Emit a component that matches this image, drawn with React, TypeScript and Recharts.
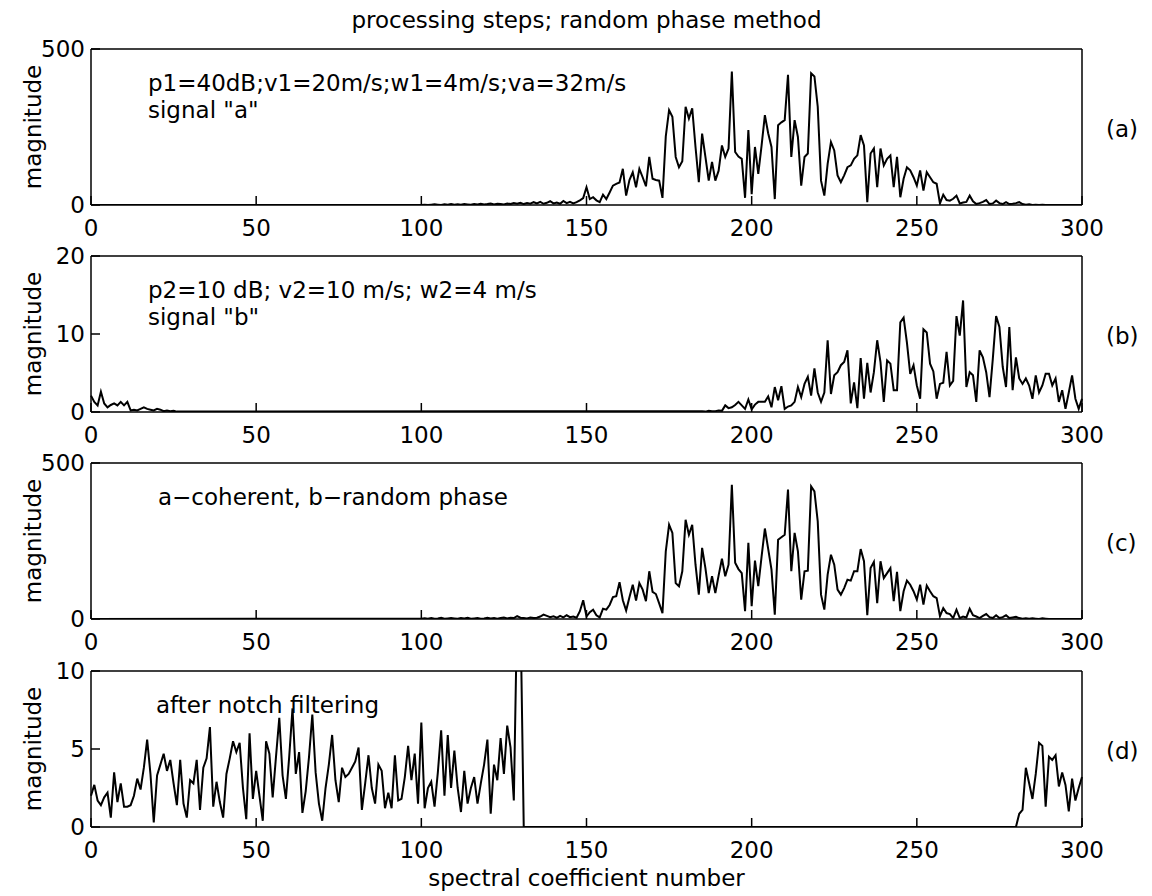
import React from "react";
import { LineChart, Line, XAxis, YAxis } from "recharts";

const FONT = "'DejaVu Sans', 'Liberation Sans', sans-serif";
const W = 1152;
const H = 896;
const PLOT_LEFT = 91;
const PLOT_RIGHT = 1082;
const PLOT_H = 156;
const PANEL_TOPS = [49, 256, 463, 671];

// x axis: spectral coefficient number
const coefTicks = [0, 50, 100, 150, 200, 250, 300];

// (a) signal "a", coefficients 100..290 (zero elsewhere)
const aStart = 100;
const magA = [
  0, 1, 0, 1, 2, 1, 0, 2, 1, 3,
  1, 2, 1, 3, 2, 1, 3, 2, 4, 2,
  3, 5, 2, 4, 3, 2, 5, 3, 6, 4,
  7, 3, 6, 4, 9, 5, 10, 4, 7, 12,
  5, 8, 4, 13, 6, 10, 5, 9, 15, 22,
  57, 19, 25, 15, 9, 33, 19, 40, 62, 68,
  72, 116, 30, 80, 105, 57, 116, 89, 60, 154,
  84, 80, 78, 23, 220, 304, 283, 154, 121, 140,
  315, 277, 310, 186, 73, 229, 154, 78, 138, 78,
  110, 191, 154, 181, 428, 170, 155, 148, 23, 240,
  35, 186, 100, 190, 288, 230, 186, 19, 256, 265,
  272, 417, 154, 272, 218, 62, 154, 165, 422, 412,
  315, 78, 30, 132, 202, 175, 95, 73, 95, 121,
  127, 148, 159, 224, 191, 9, 165, 181, 57, 181,
  127, 148, 159, 57, 154, 25, 84, 121, 111, 89,
  62, 111, 46, 105, 89, 73, 68, 5, 33, 16,
  14, 20, 30, 5, 8, 10, 30, 12, 3, 6,
  10, 16, 3, 5, 14, 6, 3, 9, 3, 4,
  6, 9, 3, 1, 2, 0, 1, 0, 1, 0, 0,
];

// (b) signal "b": low end 0..26 and high end 185..300
const bLow = [
  2.1, 1.3, 0.85, 2.6, 1.1, 0.6, 0.9, 1.1, 0.85, 1.3,
  0.85, 1.3, 0.2, 0.3, 0.2, 0.4, 0.6, 0.4, 0.3, 0.2,
  0.4, 0.3, 0.1, 0.2, 0.1, 0.15, 0.05,
];
const bHighStart = 185;
const bHigh = [
  0.1, 0.05, 0.15, 0.1, 0.1,
  0.2, 0.15, 0.85, 0.5, 0.6, 0.9, 1.3, 0.85, 0.4, 1.6,
  0.35, 0.95, 1.3, 1.3, 1.3, 2.0, 0.6, 3.2, 1.5, 3.3,
  0.4, 0.7, 0.85, 1.3, 3.2, 1.9, 3.6, 4.5, 2.1, 5.6,
  2.5, 1.3, 2.5, 9.2, 2.3, 4.7, 5.1, 6.0, 6.4, 7.9,
  1.1, 3.8, 0.5, 6.9, 1.7, 6.3, 2.5, 5.1, 9.2, 6.4,
  1.3, 6.6, 6.2, 2.8, 2.8, 11.5, 12.1, 8.9, 4.9, 6.0,
  3.4, 1.7, 10.6, 10.2, 6.2, 5.2, 1.7, 3.6, 3.75, 7.7,
  3.4, 4.0, 12.3, 9.8, 14.3, 3.2, 5.1, 4.7, 1.3, 7.9,
  7.0, 5.1, 1.9, 6.8, 12.3, 10.9, 5.8, 3.2, 10.9, 2.8,
  7.0, 4.3, 3.6, 4.3, 3.4, 1.7, 4.7, 2.5, 3.4, 4.9,
  4.9, 3.4, 4.3, 1.3, 2.8, 0.4, 2.5, 4.7, 1.7, 0.4, 1.7,
];

// (c) a-coherent + b-random phase, coefficients 100..290
const cStart = 100;
const magC = [
  1, 2, 1, 3, 1, 2, 4, 1, 2, 3,
  2, 1, 3, 2, 4, 1, 2, 3, 1, 2,
  4, 2, 3, 1, 3, 5, 2, 4, 3, 9,
  4, 3, 2, 5, 3, 4, 8, 14, 10, 6,
  9, 4, 10, 5, 12, 6, 8, 4, 25, 60,
  8, 22, 30, 12, 5, 33, 30, 45, 70, 73,
  118, 60, 27, 70, 110, 59, 115, 94, 57, 153,
  87, 80, 50, 19, 217, 302, 276, 115, 105, 153,
  318, 270, 302, 174, 78, 228, 163, 83, 137, 83,
  140, 193, 137, 174, 430, 180, 160, 147, 25, 244,
  41, 187, 105, 200, 290, 225, 158, 14, 254, 262,
  270, 415, 153, 276, 217, 62, 153, 155, 425, 409,
  313, 78, 30, 142, 206, 174, 94, 78, 99, 126,
  123, 153, 153, 224, 185, 12, 163, 183, 51, 185,
  131, 147, 163, 57, 151, 25, 89, 123, 110, 89,
  62, 110, 46, 107, 89, 73, 67, 9, 35, 19,
  16, 3, 30, 3, 8, 5, 33, 12, 8, 3,
  10, 16, 6, 3, 12, 3, 6, 12, 3, 5,
  7, 3, 1, 2, 1, 2, 1, 0, 2, 1, 0,
];

// (d) after notch filtering: 0..131 and 280..300, zero in the notch
const dLow = [
  2.0, 2.7, 1.7, 1.4, 1.9, 2.2, 0.6, 3.5, 1.6, 2.8,
  1.3, 1.3, 1.4, 2.0, 3.1, 2.4, 3.8, 5.6, 3.4, 0.3,
  3.3, 4.0, 4.7, 3.6, 4.3, 2.8, 1.4, 4.3, 1.5, 0.6,
  3.0, 2.8, 4.3, 1.1, 3.8, 4.4, 6.4, 1.3, 2.9, 1.6,
  0.6, 3.4, 4.4, 5.5, 4.8, 5.4, 2.5, 0.5, 6.0, 1.8,
  3.6, 2.0, 0.4, 5.5, 4.7, 1.9, 4.5, 7.0, 3.3, 1.8,
  4.5, 7.6, 3.4, 4.8, 0.9, 2.3, 4.5, 7.2, 3.5, 1.5,
  0.4, 2.5, 4.0, 5.9, 3.0, 1.6, 3.8, 3.2, 3.4, 3.8,
  4.2, 5.1, 1.1, 2.8, 4.6, 2.5, 1.5, 4.0, 3.6, 1.2,
  2.2, 1.2, 4.6, 1.7, 1.8, 3.2, 5.2, 3.0, 4.7, 1.5,
  6.7, 1.2, 2.5, 2.9, 1.3, 3.5, 6.2, 2.0, 5.9, 2.5,
  4.9, 2.5, 0.96, 3.6, 1.5, 2.5, 3.2, 1.5, 2.8, 4.0,
  5.6, 0.85, 4.0, 3.0, 5.7, 3.4, 6.5, 5.1, 1.7, 14,
  14, 0,
];
const dHighStart = 280;
const dHigh = [
  0, 0.85, 1.1, 3.8, 2.8, 1.8, 3.4, 5.4, 5.2, 1.3,
  4.5, 4.3, 4.6, 2.6, 3.5, 2.7, 1.0, 3.1, 1.7, 2.5, 3.2,
];

const panelTags = ["(a)", "(b)", "(c)", "(d)"];
const panelNotes = [
  ["p1=40dB;v1=20m/s;w1=4m/s;va=32m/s", 'signal "a"'],
  ["p2=10 dB; v2=10 m/s; w2=4 m/s", 'signal "b"'],
  ["a\u2212coherent, b\u2212random phase"],
  ["after notch filtering"],
];
const noteX = [148, 148, 158, 156];

type Pt = { n: number; v: number };

function run(start: number, values: number[]): Pt[] {
  return values.map((v, i) => ({ n: start + i, v }));
}

const dataA = [{ n: 0, v: 0 }, ...run(aStart, magA), { n: 300, v: 0 }];
const dataB = [...run(0, bLow), ...run(bHighStart, bHigh)];
const dataC = [{ n: 0, v: 0 }, ...run(cStart, magC), { n: 300, v: 0 }];
const dataD = [...run(0, dLow), ...run(dHighStart, dHigh)];

const panels = [
  { data: dataA, yMax: 500, yTicks: [0, 500] },
  { data: dataB, yMax: 20, yTicks: [0, 10, 20] },
  { data: dataC, yMax: 500, yTicks: [0, 500] },
  { data: dataD, yMax: 10, yTicks: [0, 5, 10] },
];

const tickStyle = { fill: "#000", fontSize: 23, fontFamily: FONT };

function Panel({ data, top, yMax, yTicks }: { data: Pt[]; top: number; yMax: number; yTicks: number[] }) {
  // room above the frame so the top tick label is not clipped
  const mt = 18;
  return (
    <div style={{ position: "absolute", left: 0, top: top - mt - 1 }}>
      <LineChart
        width={W}
        height={mt + 1 + PLOT_H + 44}
        data={data}
        margin={{ top: mt, right: W - PLOT_RIGHT - 1, bottom: 0, left: 0 }}
      >
        <XAxis
          dataKey="n"
          type="number"
          domain={[0, 300]}
          ticks={coefTicks}
          interval={0}
          height={44}
          tickSize={-9}
          tickMargin={24}
          stroke="#000"
          strokeWidth={1.5}
          tick={tickStyle}
        />
        <XAxis
          xAxisId="top"
          orientation="top"
          dataKey="n"
          type="number"
          domain={[0, 300]}
          ticks={coefTicks}
          interval={0}
          height={1}
          tickSize={-9}
          stroke="#000"
          strokeWidth={1.5}
          tick={false}
        />
        <YAxis
          yAxisId="left"
          type="number"
          domain={[0, yMax]}
          ticks={yTicks}
          interval={0}
          width={PLOT_LEFT}
          allowDataOverflow
          tickSize={-9}
          tickMargin={15}
          stroke="#000"
          strokeWidth={1.5}
          tick={tickStyle}
        />
        <YAxis
          yAxisId="right"
          orientation="right"
          type="number"
          domain={[0, yMax]}
          ticks={yTicks}
          interval={0}
          width={1}
          allowDataOverflow
          tickSize={-9}
          stroke="#000"
          strokeWidth={1.5}
          tick={false}
        />
        <Line
          yAxisId="left"
          dataKey="v"
          type="linear"
          stroke="#000"
          strokeWidth={2}
          dot={false}
          isAnimationActive={false}
        />
      </LineChart>
    </div>
  );
}

export default function App() {
  const cx = (PLOT_LEFT + PLOT_RIGHT) / 2;
  return (
    <div style={{ position: "absolute", left: 0, top: 0, width: W, height: H, background: "#fff", fontFamily: FONT }}>
      {panels.map((p, i) => (
        <Panel key={i} data={p.data} top={PANEL_TOPS[i]} yMax={p.yMax} yTicks={p.yTicks} />
      ))}
      <svg width={W} height={H} style={{ position: "absolute", left: 0, top: 0, pointerEvents: "none" }}>
        <g fontFamily={FONT} fontSize={23} fill="#000">
          <text x={cx} y={28} textAnchor="middle">
            processing steps; random phase method
          </text>
          {PANEL_TOPS.map((t, i) => {
            const mid = t + PLOT_H / 2;
            return (
              <g key={i}>
                <text transform={`translate(41, ${mid}) rotate(-90)`} textAnchor="middle">
                  magnitude
                </text>
                <text x={1106} y={mid + 10}>
                  {panelTags[i]}
                </text>
                {panelNotes[i].map((line, j) => (
                  <text key={j} x={noteX[i]} y={t + 42 + j * 27}>
                    {line}
                  </text>
                ))}
              </g>
            );
          })}
          <text x={cx} y={886} textAnchor="middle">
            spectral coefficient number
          </text>
        </g>
      </svg>
    </div>
  );
}
